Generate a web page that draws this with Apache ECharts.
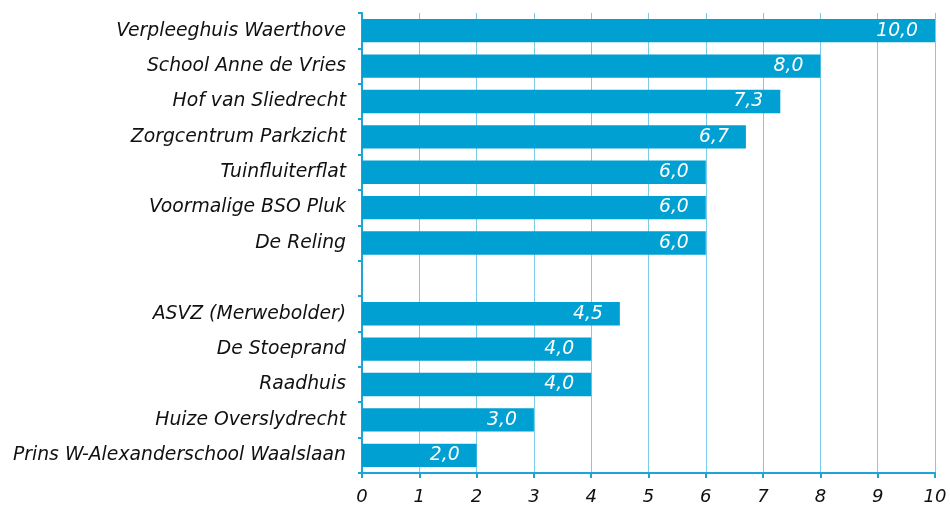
<!DOCTYPE html>
<html>
<head>
<meta charset="utf-8">
<script src="https://cdn.jsdelivr.net/npm/echarts@6/dist/echarts.min.js"></script>
<style>
  html, body { margin: 0; padding: 0; background: #fff; }
  #chart { width: 950px; height: 508px; }
</style>
</head>
<body>
<div id="chart"></div>
<script>
// categories top to bottom, the empty one is a gap row
var locaties = [
    'Verpleeghuis Waerthove',
    'School Anne de Vries',
    'Hof van Sliedrecht',
    'Zorgcentrum Parkzicht',
    'Tuinfluiterflat',
    'Voormalige BSO Pluk',
    'De Reling',
    '',
    'ASVZ (Merwebolder)',
    'De Stoeprand',
    'Raadhuis',
    'Huize Overslydrecht',
    'Prins W-Alexanderschool Waalslaan'
];
var scores = [10.0, 8.0, 7.3, 6.7, 6.0, 6.0, 6.0, '-', 4.5, 4.0, 4.0, 3.0, 2.0];
var xTicks = [0, 10, 1];  // min, max, interval

var blauw = '#00a0d2';
var lijn = '#7ccbe8';
var font = 'DejaVu Sans';

var chart = echarts.init(document.getElementById('chart'));

var option = {
    animation: false,
    grid: { left: 362, right: 15, top: 13, bottom: 35, containLabel: false },
    xAxis: {
        type: 'value',
        min: xTicks[0],
        max: xTicks[1],
        interval: xTicks[2],
        axisLine: { show: true, lineStyle: { color: '#1ea5d8', width: 2 } },
        axisTick: { show: true, length: 5, lineStyle: { color: '#1ea5d8', width: 2 } },
        splitLine: { show: true, lineStyle: { color: lijn, width: 1 } },
        axisLabel: { fontFamily: font, fontStyle: 'italic', fontSize: 18, color: '#111', margin: 15 }
    },
    yAxis: {
        type: 'category',
        inverse: true,
        data: locaties,
        axisLine: { show: true, lineStyle: { color: '#1ea5d8', width: 2 } },
        axisTick: { show: true, length: 4, lineStyle: { color: '#1ea5d8', width: 2 } },
        axisLabel: { fontFamily: font, fontStyle: 'italic', fontSize: 18.8, color: '#111', margin: 16 }
    },
    series: [{
        type: 'bar',
        data: scores,
        barWidth: '66%',
        itemStyle: { color: blauw },
        label: {
            show: true,
            position: 'insideRight',
            distance: 17,
            fontFamily: font,
            fontStyle: 'italic',
            fontSize: 18.8,
            color: '#fff',
            formatter: function (p) {
                return p.value.toFixed(1).replace('.', ',');
            }
        }
    }]
};

chart.setOption(option);
</script>
</body>
</html>
